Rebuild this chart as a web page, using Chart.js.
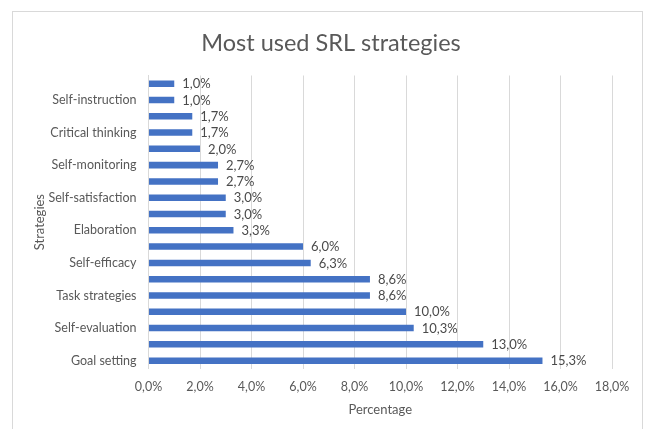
<!DOCTYPE html>
<html>
<head>
<meta charset="utf-8">
<script src="https://cdn.jsdelivr.net/npm/chart.js@4"></script>
<style>
  html, body { margin: 0; padding: 0; background: #ffffff; }
  #wrap { position: relative; width: 648px; height: 429px; }
</style>
</head>
<body>
<div id="wrap"><canvas id="chart" width="648" height="429"></canvas></div>
<script>
// Strategy names, top to bottom; every second category is left unnamed on the axis
const strategies = [
  '', 'Self-instruction', '', 'Critical thinking', '', 'Self-monitoring',
  '', 'Self-satisfaction', '', 'Elaboration', '', 'Self-efficacy',
  '', 'Task strategies', '', 'Self-evaluation', '', 'Goal setting'
];
// Share of use, in percent
const percentages = [
  1.0, 1.0, 1.7, 1.7, 2.0, 2.7, 2.7, 3.0, 3.0, 3.3,
  6.0, 6.3, 8.6, 8.6, 10.0, 10.3, 13.0, 15.3
];
const xTicks = [0, 2, 4, 6, 8, 10, 12, 14, 16, 18];
const chartTitle = 'Most used SRL strategies';

const FONT = 'Lato, "Open Sans", sans-serif';
const fmt = v => v.toFixed(1).replace('.', ',') + '%';

// White background, the thin frame around the chart and the centred heading
const framePlugin = {
  id: 'frame',
  beforeDraw(chart) {
    const ctx = chart.ctx;
    ctx.save();
    ctx.fillStyle = '#ffffff';
    ctx.fillRect(0, 0, chart.width, chart.height);
    ctx.strokeStyle = '#d9d9d9';
    ctx.lineWidth = 1;
    ctx.strokeRect(12.5, 11.5, 630, 440);
    ctx.font = '23.5px ' + FONT;
    ctx.fillStyle = '#595959';
    ctx.textAlign = 'center';
    ctx.textBaseline = 'middle';
    ctx.fillText(chartTitle, 331, 43.5);
    ctx.restore();
  }
};

// Value labels at the end of each bar
const valueLabels = {
  id: 'valueLabels',
  afterDatasetsDraw(chart) {
    const ctx = chart.ctx;
    const meta = chart.getDatasetMeta(0);
    ctx.save();
    ctx.font = '13px ' + FONT;
    ctx.fillStyle = '#4a4a4a';
    ctx.textAlign = 'left';
    ctx.textBaseline = 'middle';
    meta.data.forEach((bar, i) => {
      ctx.fillText(fmt(percentages[i]), bar.x + 8, bar.y + 0.5);
    });
    ctx.restore();
  }
};

new Chart(document.getElementById('chart'), {
  type: 'bar',
  data: {
    labels: strategies,
    datasets: [{
      data: percentages,
      backgroundColor: '#4472c4',
      borderWidth: 0,
      categoryPercentage: 0.4,
      barPercentage: 1.0
    }]
  },
  options: {
    indexAxis: 'y',
    responsive: false,
    animation: false,
    devicePixelRatio: 1,
    layout: { padding: { left: 28, right: 36, top: 75.5, bottom: 0 } },
    plugins: {
      legend: { display: false },
      tooltip: { enabled: false },
      title: { display: false }
    },
    scales: {
      x: {
        min: 0,
        max: 18,
        afterBuildTicks(scale) {
          scale.ticks = xTicks.map(v => ({ value: v }));
        },
        afterFit(scale) { scale.height = 60.2; },
        ticks: {
          color: '#595959',
          font: { family: FONT, size: 12.5 },
          padding: 10.2,
          callback: v => fmt(v)
        },
        grid: { color: '#d9d9d9', drawTicks: false },
        border: { display: false },
        title: {
          display: true,
          text: 'Percentage',
          color: '#595959',
          font: { family: FONT, size: 13 },
          padding: { top: 4, bottom: 11.2 }
        }
      },
      y: {
        afterFit(scale) { scale.width = 120.5; },
        ticks: {
          color: '#595959',
          font: { family: FONT, size: 12.5 },
          padding: 12,
          autoSkip: false
        },
        grid: { display: false, drawTicks: false },
        border: { display: true, color: '#d9d9d9' },
        title: {
          display: true,
          text: 'Strategies',
          color: '#595959',
          font: { family: FONT, size: 13 },
          padding: { top: 4, bottom: 4 }
        }
      }
    }
  },
  plugins: [framePlugin, valueLabels]
});
</script>
</body>
</html>
